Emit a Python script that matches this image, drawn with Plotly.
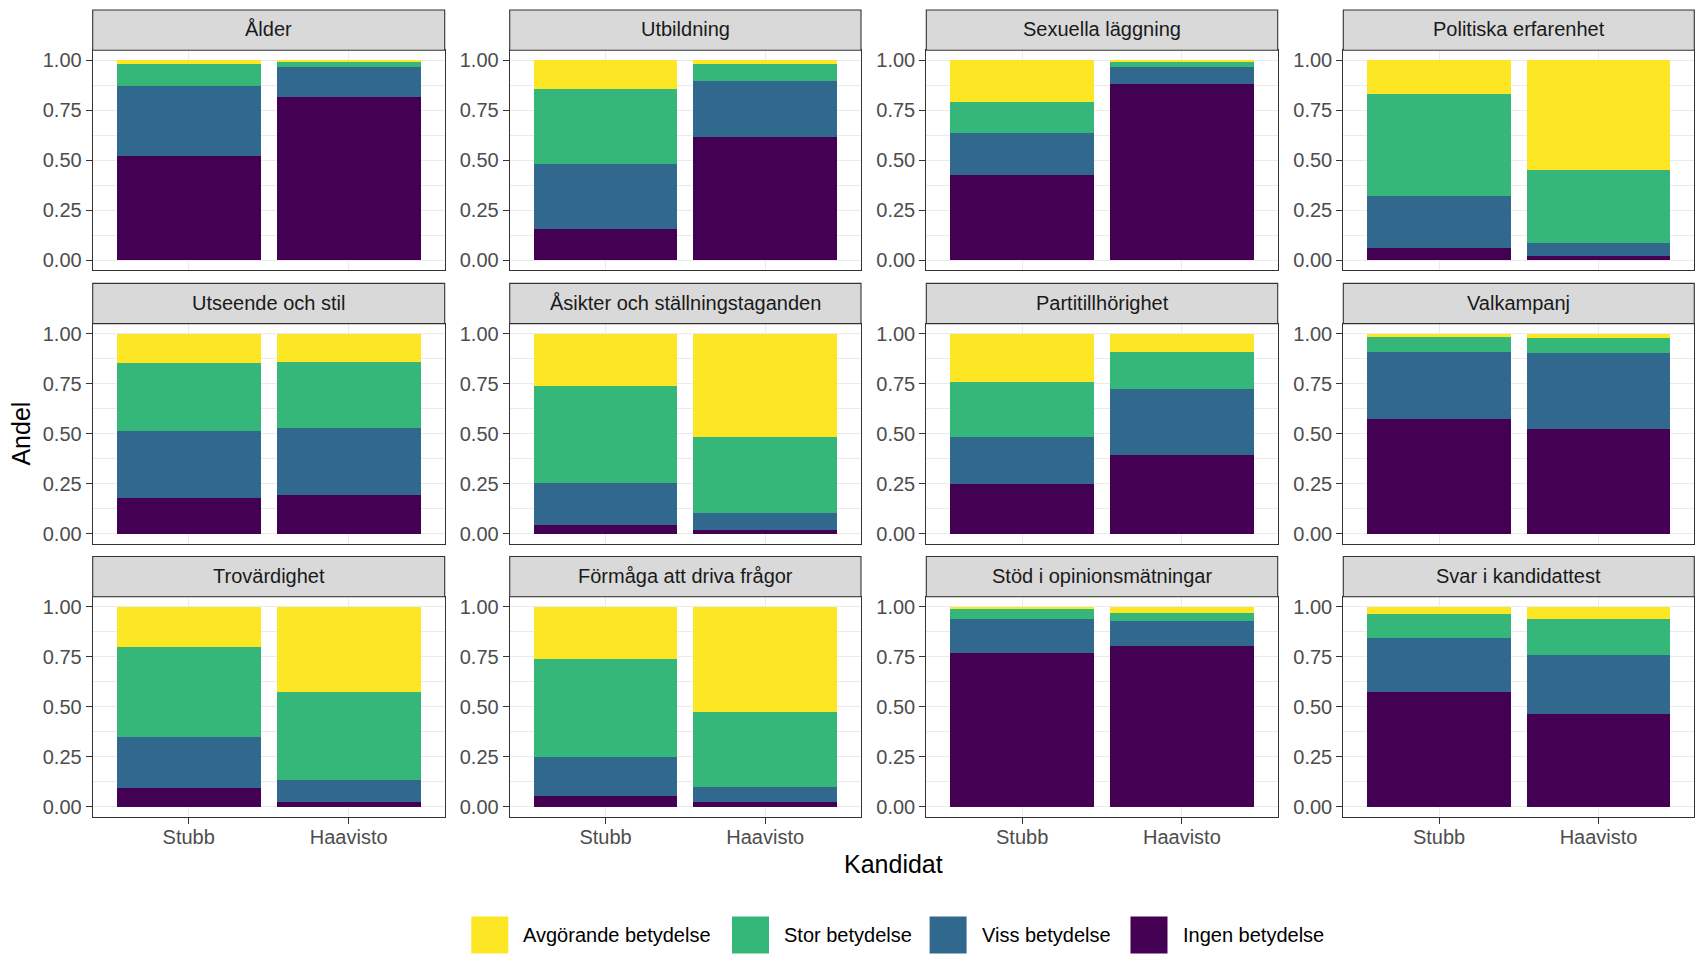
import plotly.graph_objects as go

# ---------------- data ----------------
facets = ["Ålder", "Utbildning", "Sexuella läggning", "Politiska erfarenhet",
          "Utseende och stil", "Åsikter och ställningstaganden", "Partitillhörighet", "Valkampanj",
          "Trovärdighet", "Förmåga att driva frågor", "Stöd i opinionsmätningar", "Svar i kandidattest"]
candidates = ["Stubb", "Haavisto"]

# stacking order bottom -> top
levels = ["Ingen betydelse", "Viss betydelse", "Stor betydelse", "Avgörande betydelse"]
level_colors = ["#440154", "#31688E", "#35B779", "#FDE725"]

stubb_ingen = [0.522, 0.158, 0.428, 0.063, 0.178, 0.043, 0.248, 0.571, 0.093, 0.053, 0.771, 0.576]
stubb_viss  = [0.350, 0.325, 0.209, 0.260, 0.334, 0.209, 0.234, 0.339, 0.259, 0.195, 0.169, 0.270]
stubb_stor  = [0.111, 0.374, 0.155, 0.509, 0.343, 0.484, 0.274, 0.075, 0.449, 0.493, 0.050, 0.119]
stubb_avg   = [0.017, 0.143, 0.208, 0.168, 0.145, 0.264, 0.244, 0.015, 0.199, 0.259, 0.010, 0.035]

haavisto_ingen = [0.817, 0.617, 0.882, 0.023, 0.193, 0.018, 0.392, 0.522, 0.023, 0.023, 0.806, 0.463]
haavisto_viss  = [0.150, 0.280, 0.085, 0.065, 0.334, 0.085, 0.329, 0.383, 0.110, 0.075, 0.124, 0.298]
haavisto_stor  = [0.025, 0.086, 0.025, 0.365, 0.333, 0.379, 0.189, 0.075, 0.443, 0.374, 0.040, 0.179]
haavisto_avg   = [0.008, 0.017, 0.008, 0.547, 0.140, 0.518, 0.090, 0.020, 0.424, 0.528, 0.030, 0.060]

y_ticks = [0, 0.25, 0.5, 0.75, 1.0]
y_ticklabels = ["0.00", "0.25", "0.50", "0.75", "1.00"]

stubb_vals = [stubb_ingen, stubb_viss, stubb_stor, stubb_avg]
haavisto_vals = [haavisto_ingen, haavisto_viss, haavisto_stor, haavisto_avg]

# ---------------- layout geometry (pixels) ----------------
W, H = 1703, 956
FONT = "Liberation Sans, Arial, Helvetica, sans-serif"
col_x = [(92.7, 444.7), (509.7, 861.0), (926.3, 1277.7), (1343.3, 1694.3)]
row_y = [(49.3, 269.7), (323.3, 543.7), (597.0, 817.7)]  # (top, bottom)
STRIP_H = 40.3

def px(x):
    return x / W

def py(y):
    return 1 - y / H

fig = go.Figure()
shapes = []
annotations = []

for i, facet in enumerate(facets):
    r, c = divmod(i, 4)
    n = i + 1
    xa = "x" if n == 1 else f"x{n}"
    ya = "y" if n == 1 else f"y{n}"
    for k, lev in enumerate(levels):
        fig.add_trace(go.Bar(
            x=candidates,
            y=[stubb_vals[k][i], haavisto_vals[k][i]],
            name=lev,
            marker=dict(color=level_colors[k], line=dict(width=0)),
            xaxis=xa, yaxis=ya,
            showlegend=False,
            hovertemplate=f"{facet}<br>%{{x}}<br>{lev}: %{{y:.3f}}<extra></extra>",
        ))
    x0, x1 = col_x[c]
    top, bot = row_y[r]
    bottom_row = (r == 2)
    xkey = "xaxis" if n == 1 else f"xaxis{n}"
    ykey = "yaxis" if n == 1 else f"yaxis{n}"
    fig.update_layout(**{
        xkey: dict(
            domain=[px(x0), px(x1)], anchor=ya,
            type="category", categoryorder="array", categoryarray=candidates,
            range=[-0.6, 1.6],
            showgrid=True, gridcolor="#EBEBEB", gridwidth=1.1,
            showline=True, mirror=True, linecolor="#333333", linewidth=1.1,
            ticks="outside" if bottom_row else "", ticklen=6, tickwidth=1.1, tickcolor="#333333",
            showticklabels=bottom_row,
            tickfont=dict(family=FONT, size=20, color="#4D4D4D"),
            ticklabelstandoff=-4,
            zeroline=False, fixedrange=True,
        ),
        ykey: dict(
            domain=[py(bot), py(top)], anchor=xa,
            range=[-0.05, 1.05],
            tickvals=y_ticks, ticktext=y_ticklabels,
            showgrid=True, gridcolor="#EBEBEB", gridwidth=1.1,
            minor=dict(tick0=0.125, dtick=0.25, showgrid=True, gridcolor="#EBEBEB", gridwidth=0.55, ticks=""),
            showline=True, mirror=True, linecolor="#333333", linewidth=1.1,
            ticks="outside", ticklen=6, tickwidth=1.1, tickcolor="#333333",
            tickfont=dict(family=FONT, size=20, color="#4D4D4D"),
            ticklabelstandoff=0,
            zeroline=False, fixedrange=True,
        ),
    })
    # facet strip
    shapes.append(dict(type="rect", xref="paper", yref="paper",
                       x0=px(x0), x1=px(x1), y0=py(top), y1=py(top - STRIP_H),
                       fillcolor="#D9D9D9", line=dict(color="#333333", width=1.1), layer="above"))
    annotations.append(dict(text=facet, xref="paper", yref="paper",
                            x=px((x0 + x1) / 2), y=py(top - STRIP_H / 2 - 1),
                            xanchor="center", yanchor="middle", showarrow=False,
                            font=dict(family=FONT, size=20, color="#1A1A1A")))

# axis titles
annotations.append(dict(text="Andel", xref="paper", yref="paper", x=px(21), y=py(433.5),
                        textangle=-90, showarrow=False, xanchor="center", yanchor="middle",
                        font=dict(family=FONT, size=25, color="black")))
annotations.append(dict(text="Kandidat", xref="paper", yref="paper", x=px(893.5), y=py(865),
                        showarrow=False, xanchor="center", yanchor="middle",
                        font=dict(family=FONT, size=25, color="black")))

# custom legend (order as in reference: top of stack first)
legend_order = [3, 2, 1, 0]
key_left = [471.3, 732.0, 929.6, 1130.5]
KEY = 37.0
LEG_Y = 936.0
for pos, k in enumerate(legend_order):
    kl = key_left[pos]
    shapes.append(dict(type="rect", xref="paper", yref="paper",
                       x0=px(kl), x1=px(kl + KEY), y0=py(LEG_Y + KEY / 2), y1=py(LEG_Y - KEY / 2),
                       fillcolor=level_colors[k], line=dict(width=0)))
    annotations.append(dict(text=levels[k], xref="paper", yref="paper",
                            x=px(kl + KEY + 13.0), y=py(LEG_Y),
                            xanchor="left", yanchor="middle", showarrow=False,
                            font=dict(family=FONT, size=20, color="black")))

fig.update_layout(
    width=W, height=H,
    margin=dict(l=0, r=0, t=0, b=0),
    paper_bgcolor="white", plot_bgcolor="white",
    barmode="stack", bargap=0.1,
    shapes=shapes, annotations=annotations,
    showlegend=False,
    font=dict(family=FONT),
)

fig.write_html("out.html", config={"displayModeBar": False},
               post_script="document.body.style.margin='0';document.body.style.overflow='hidden';")
